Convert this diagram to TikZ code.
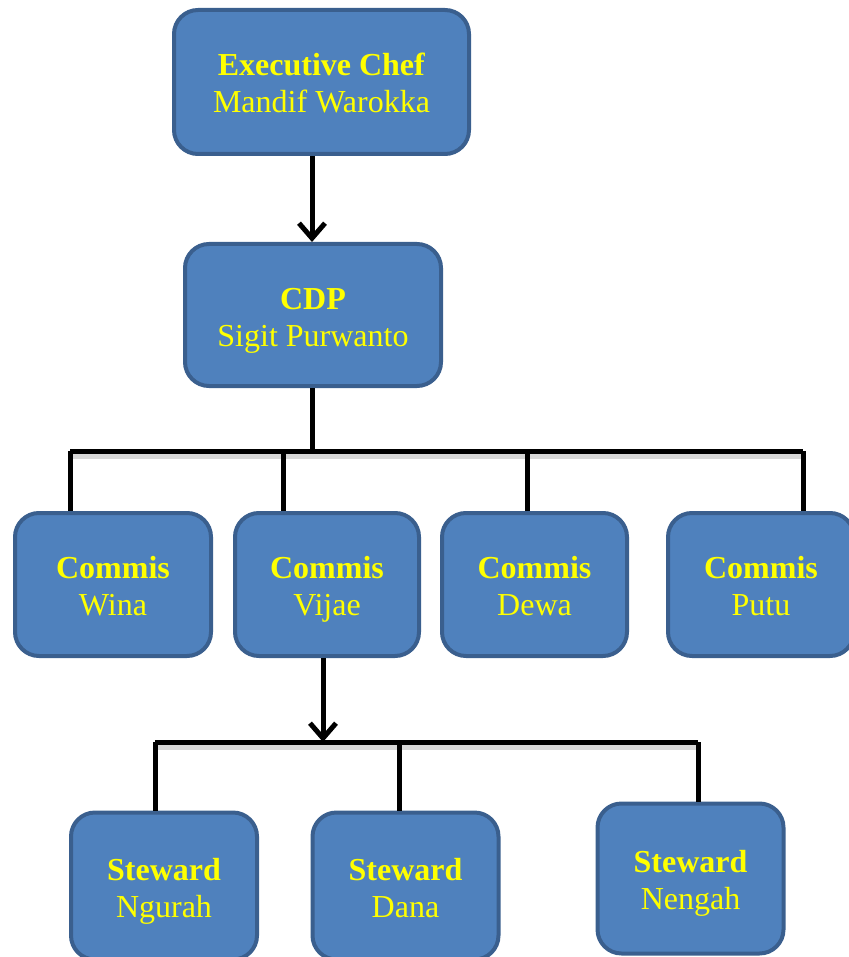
\documentclass[tikz,border=0pt]{standalone}
\usepackage{fontspec}
\setmainfont{Liberation Serif}
\usetikzlibrary{arrows.meta}
\definecolor{boxfill}{HTML}{4F81BD}
\definecolor{boxedge}{HTML}{3A5F8E}
\definecolor{txt}{HTML}{FFFF00}
\tikzset{
  orgbox/.style={draw=boxedge, fill=boxfill, line width=4pt, rounded corners=24pt,
    align=center, text=txt, font=\fontsize{32}{37}\selectfont, inner sep=0pt,
    text height=69pt, text depth=7pt},
  conn/.style={line width=5pt, black},
  shade line/.style={line width=7pt, black!30, opacity=0.5},
  arr/.style={conn, -{Straight Barb[length=15pt,width=26pt,line width=5pt]}}
}
\begin{document}
\begin{tikzpicture}[x=1pt,y=-1pt]
\useasboundingbox (0,0) rectangle (848,957);
% nodes
\node[orgbox, minimum width=295pt, minimum height=144pt] (exec) at (321.5,82) {\textbf{Executive Chef}\\Mandif Warokka};
\node[orgbox, minimum width=256pt, minimum height=142pt] (cdp) at (313,315) {\textbf{CDP}\\Sigit Purwanto};
\node[orgbox, minimum width=196pt, minimum height=143pt] (wina) at (113,584.5) {\textbf{Commis}\\Wina};
\node[orgbox, minimum width=184pt, minimum height=143pt] (vijae) at (327,584.5) {\textbf{Commis}\\Vijae};
\node[orgbox, minimum width=185pt, minimum height=143pt] (dewa) at (534.5,584.5) {\textbf{Commis}\\Dewa};
\node[orgbox, minimum width=186pt, minimum height=143pt] (putu) at (761,584.5) {\textbf{Commis}\\Putu};
\node[orgbox, minimum width=186pt, minimum height=147pt] (ngurah) at (164,886) {\textbf{Steward}\\Ngurah};
\node[orgbox, minimum width=186pt, minimum height=147pt] (dana) at (405.5,886) {\textbf{Steward}\\Dana};
\node[orgbox, minimum width=186pt, minimum height=150pt] (nengah) at (690.5,878.5) {\textbf{Steward}\\Nengah};
% coordinates
\coordinate (t1) at (312,451);
\coordinate (bl) at (70,451);
\coordinate (br) at (803,451);
\coordinate (d2) at (283,451);
\coordinate (d3) at (527,451);
\coordinate (va) at (323,658);
\coordinate (t2) at (323,742);
\coordinate (cl) at (155,742);
\coordinate (cr) at (698,742);
\coordinate (c2) at (399,742);
% shadows of bars
\draw[shade line] ([yshift=-4pt]bl) -- ([yshift=-4pt]br);
\draw[shade line] ([yshift=-4pt]cl) -- ([yshift=-4pt]cr);
% connectors
\draw[arr] (t1 |- exec.south) -- (t1 |- cdp.north);
\draw[conn] (t1 |- cdp.south) -- (t1);
\draw[conn] (bl) -- (br);
\draw[conn] (bl) -- (bl |- wina.north);
\draw[conn] (d2) -- (d2 |- vijae.north);
\draw[conn] (d3) -- (d3 |- dewa.north);
\draw[conn] (br) -- (br |- putu.north);
\draw[arr] (va |- vijae.south) -- (t2);
\draw[conn] (cl) -- (cr);
\draw[conn] (cl) -- (cl |- ngurah.north);
\draw[conn] (c2) -- (c2 |- dana.north);
\draw[conn] (cr) -- (cr |- nengah.north);
\end{tikzpicture}
\end{document}
